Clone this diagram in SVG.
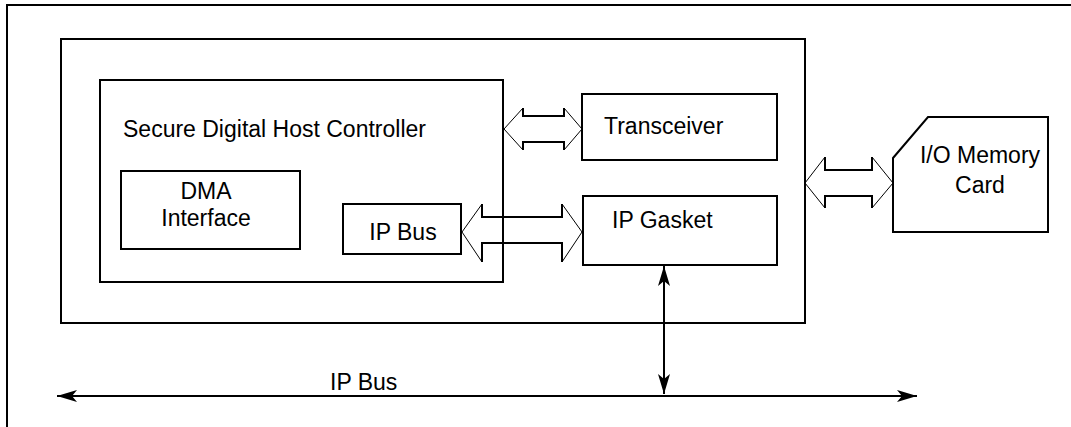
<svg xmlns="http://www.w3.org/2000/svg" width="1071" height="427" viewBox="0 0 1071 427">
<defs>
<style>
.box{fill:none;stroke:#000;stroke-width:2}
.t{font-family:"Liberation Sans",Arial,sans-serif;font-size:23px;fill:#000}
.head{fill:none;stroke:#000;stroke-width:1}
.shaft{fill:none;stroke:#000;stroke-width:2}
.ln{stroke:#000;stroke-width:2;fill:none}
</style>
<marker id="ah" viewBox="0 0 20 12" refX="20" refY="6" markerWidth="20" markerHeight="12" markerUnits="userSpaceOnUse" orient="auto-start-reverse">
<path d="M0,0 L20,6 L0,12 L5,6 Z" fill="#000"/>
</marker>
</defs>
<rect width="1071" height="427" fill="#fff"/>
<path id="frame" class="ln" d="M7,427 V5 H1071"/>
<g id="connectors">
<path d="M504,129 L523,108 V116 H564 V108 L582,129 L564,150 V142 H523 V150 Z" fill="#fff"/>
<path class="head" d="M523,108 L504,129 L523,150 M564,108 L582,129 L564,150"/>
<path class="shaft" d="M523,108 V116 H564 V108 M523,150 V142 H564 V150"/>
<path d="M462,232 L482,204 V217 H562 V204 L582,232 L562,262 V243 H482 V262 Z" fill="#fff"/>
<path class="head" d="M482,204 L462,232 L482,262 M562,204 L582,232 L562,262"/>
<path class="shaft" d="M482,204 V217 H562 V204 M482,262 V243 H562 V262"/>
<path d="M805,183 L825,157 V170 H872 V157 L893,183 L872,208 V196 H825 V208 Z" fill="#fff"/>
<path class="head" d="M825,157 L805,183 L825,208 M872,157 L893,183 L872,208"/>
<path class="shaft" d="M825,157 V170 H872 V157 M825,208 V196 H872 V208"/>
<line class="ln" x1="664" y1="266" x2="664" y2="394" marker-start="url(#ah)" marker-end="url(#ah)"/>
<line class="ln" x1="57" y1="396" x2="917" y2="396" marker-start="url(#ah)" marker-end="url(#ah)"/>
<text class="t" x="330" y="390">IP Bus</text>
</g>
<g id="chip"><rect class="box" x="61" y="39" width="744" height="284"/></g>
<g id="sdhc"><rect class="box" x="100" y="80" width="403" height="202"/>
<text class="t" x="123" y="137">Secure Digital Host Controller</text></g>
<g id="dma"><rect class="box" x="121" y="171" width="179" height="78"/>
<text class="t" x="206" y="199" text-anchor="middle">DMA</text>
<text class="t" x="206" y="226" text-anchor="middle">Interface</text></g>
<g id="ipbus"><rect class="box" x="343" y="204" width="118" height="50"/>
<text class="t" x="403" y="240" text-anchor="middle">IP Bus</text></g>
<g id="transceiver"><rect class="box" x="582" y="94" width="195" height="66"/>
<text class="t" x="604" y="134">Transceiver</text></g>
<g id="gasket"><rect class="box" x="583" y="196" width="194" height="69"/>
<text class="t" x="612" y="228">IP Gasket</text></g>
<g id="card"><path class="box" d="M893,158 L928,117 H1048 V232 H893 Z"/>
<text class="t" x="980" y="163" text-anchor="middle">I/O Memory</text>
<text class="t" x="980" y="193" text-anchor="middle">Card</text></g>
</svg>
